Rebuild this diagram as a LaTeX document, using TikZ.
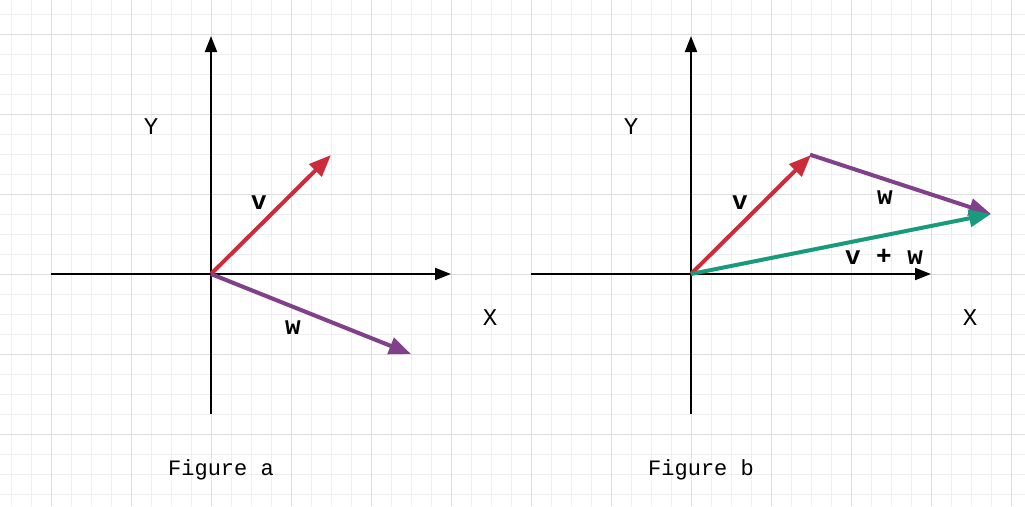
\documentclass[tikz,border=0pt]{standalone}
\usepackage{fontspec}
\setmainfont{Liberation Mono}
\usetikzlibrary{arrows.meta,positioning}
\definecolor{vecred}{RGB}{205, 42, 58}
\definecolor{vecpurple}{RGB}{128, 65, 138}
\definecolor{vecgreen}{RGB}{24, 154, 124}
\definecolor{gridminor}{RGB}{238, 238, 238}
\definecolor{gridmajor}{RGB}{221, 221, 221}

\begin{document}
\begin{tikzpicture}[
        x=1pt, y=-1pt,
        axis/.style={line width=2pt, black, -{Triangle[length=16pt, width=12pt]}},
        vec/.style={line width=4pt, -{Triangle[length=22pt, width=17pt]}},
        axislabel/.style={font=\fontsize{24}{24}\selectfont, inner sep=0pt},
        veclabel/.style={font=\fontsize{26}{26}\selectfont\bfseries, inner sep=0pt},
        caption/.style={font=\fontsize{22}{22}\selectfont, inner sep=0pt}
    ]
        \useasboundingbox (0,0) rectangle (1025,506);
        \fill[white] (0,0) rectangle (1025,506);

        % Grid
        \foreach \gx in {11.7,31.7,...,1025} {
            \draw[gridminor, line width=1pt] (\gx,0) -- (\gx,506);
        }
        \foreach \gy in {14.3,34.3,...,506} {
            \draw[gridminor, line width=1pt] (0,\gy) -- (1025,\gy);
        }
        \foreach \gx in {51.7,131.7,...,1025} {
            \draw[gridmajor, line width=1pt] (\gx,0) -- (\gx,506);
        }
        \foreach \gy in {34.3,114.3,...,506} {
            \draw[gridmajor, line width=1pt] (0,\gy) -- (1025,\gy);
        }

        % Figure a
        \coordinate (oA) at (211,274);
        \coordinate (xA0) at (51,274);
        \coordinate (xA1) at (451,274);
        \coordinate (yA0) at (211,414);
        \coordinate (yA1) at (211,36);
        \coordinate (vA) at (331,155);
        \coordinate (wA) at (411,354);
        \draw[axis] (xA0) -- (xA1);
        \draw[axis] (yA0) -- (yA1);
        \draw[vec, vecred] (oA) -- (vA);
        \draw[vec, vecpurple] (oA) -- (wA);
        \node[axislabel] (lblYA) at (151,127) {Y};
        \node[axislabel] (lblXA) at (490,318) {X};
        \node[veclabel] (lblvA) at (259,203) {v};
        \node[veclabel] (lblwA) at (293,328) {w};
        \node[caption] (capA) at (221,470) {Figure a};

        % Figure b
        \coordinate (oB) at (691,274);
        \coordinate (xB0) at (531,274);
        \coordinate (xB1) at (931,274);
        \coordinate (yB0) at (691,414);
        \coordinate (yB1) at (691,36);
        \coordinate (vB) at (811,155);
        \coordinate (sB) at (991,214);
        \draw[axis] (xB0) -- (xB1);
        \draw[axis] (yB0) -- (yB1);
        \draw[vec, vecred] (oB) -- (vB);
        \draw[vec, vecpurple, shorten <=-1pt] (vB) -- (sB);
        \draw[vec, vecgreen] (oB) -- (sB);
        \node[axislabel] (lblYB) at (631,127) {Y};
        \node[axislabel] (lblXB) at (970,318) {X};
        \node[veclabel] (lblvB) at (740,203) {v};
        \node[veclabel] (lblwB) at (885,198) {w};
        \node[veclabel] (lblsB) at (884,257) {v + w};
        \node[caption] (capB) at (701,470) {Figure b};
    \end{tikzpicture}
\end{document}
